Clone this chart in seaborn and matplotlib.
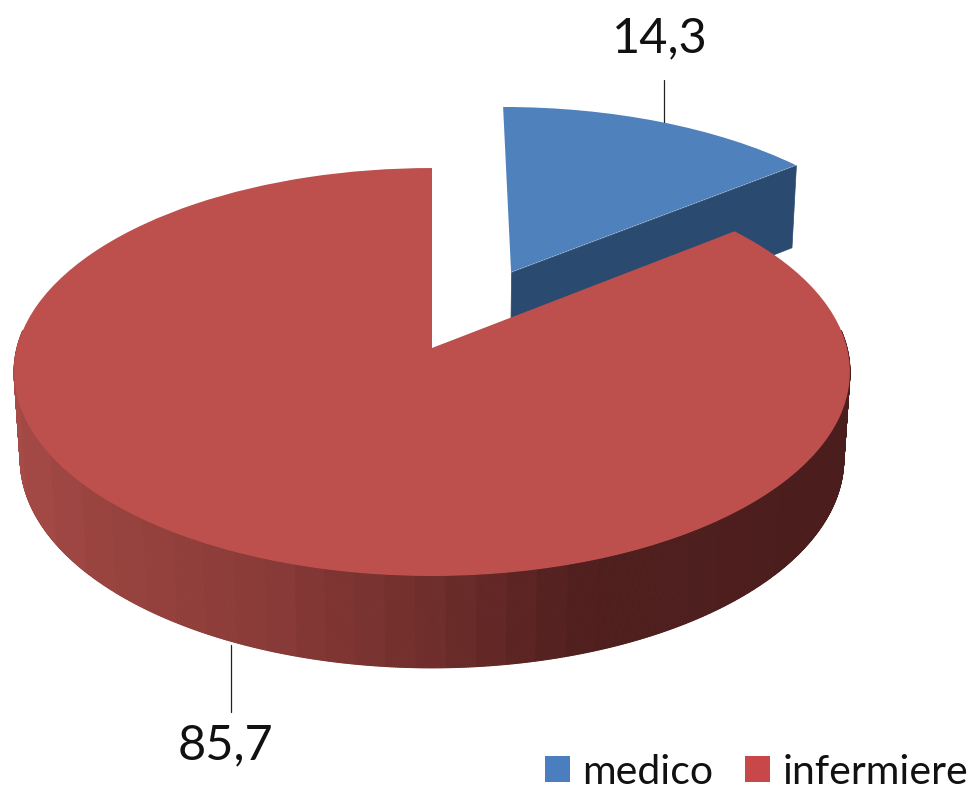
import numpy as np
import matplotlib
matplotlib.use("Agg")
import matplotlib.pyplot as plt
from matplotlib.transforms import Transform
from matplotlib.collections import PolyCollection
from matplotlib.colors import LinearSegmentedColormap
from matplotlib.patches import Patch
import seaborn as sns

categories = ["medico", "infermiere"]
values = [14.3, 85.7]
value_labels = ["14,3", "85,7"]
explode = [0.4385, 0.0]
top_colors = ["#4F81BD", "#BD4F4C"]
legend_colors = ["#4A7EBF", "#C8484A"]
blue_wall = "#2B4A6F"
red_wall_stops = [(0.0, "#A64B48"), (0.12, "#98433F"), (0.30, "#8A3B38"),
                  (0.50, "#6F2E2B"), (0.68, "#501F1E"), (1.0, "#4A1E1D")]

sns.set_theme(style="white")
plt.rcParams["font.family"] = ["Lato", "DejaVu Sans"]

fig = plt.figure(figsize=(9.73, 7.89), dpi=100)
ax = fig.add_axes([0, 0, 1, 1])


def project(xy, a, c, d, k):
    xy = np.asarray(xy, dtype=float)
    w = 1 + k * xy[..., 1]
    return np.stack([432 + a * xy[..., 0] / w, (c + d * xy[..., 1]) / w], axis=-1)


TOP = dict(a=415.0, c=348.0, d=-160.2, k=0.1176)
LOW = dict(a=409.0, c=435.0, d=-156.0, k=0.115)


class Perspective(Transform):
    input_dims = 2
    output_dims = 2

    def transform_non_affine(self, values):
        return project(values, **TOP)


wedges, _ = ax.pie(values, explode=explode, colors=top_colors, startangle=90,
                   counterclock=False, radius=1.0, frame=False)

ax.set_aspect("auto")
ax.set_xlim(0, 973)
ax.set_ylim(789, 0)
ax.axis("off")

persp = Perspective()
for w in wedges:
    w.set_transform(persp + ax.transData)
    w.set_linewidth(0)
    w.set_zorder(5)

# blue: nudge and radial cut wall
bw = wedges[0]
bw.set_center((bw.center[0] + 0.009, bw.center[1]))
cx, cy = bw.center
ang = np.deg2rad(bw.theta1)
apex = np.array([cx, cy])
rim = apex + np.array([np.cos(ang), np.sin(ang)])
blue_poly = np.array([project(apex, **TOP), project(rim, **TOP),
                      project(rim, **LOW), project(apex, **LOW)])
ax.add_collection(PolyCollection([blue_poly], facecolors=blue_wall,
                                 edgecolors=blue_wall, linewidths=0.5, zorder=2))

# red: outer wall, banded from left to right
cmap = LinearSegmentedColormap.from_list("wall", red_wall_stops)
th = np.deg2rad(np.linspace(175, 365, 761))
unit = np.stack([np.cos(th), np.sin(th)], axis=-1)
up, lo = project(unit, **TOP), project(unit, **LOW)
bands = np.round((lo[:, 0] - 12) / (849 - 12) * 28).astype(int)
quads = [[up[i], up[i + 1], lo[i + 1], lo[i]] for i in range(len(th) - 1)]
cols = [cmap(bands[i] / 28) for i in range(len(th) - 1)]
ax.add_collection(PolyCollection(quads, facecolors=cols, edgecolors=cols,
                                 linewidths=0.8, zorder=3))

# leader lines and value labels
ax.plot([664, 664], [80, 122], color="#222222", lw=0.9, zorder=6)
ax.plot([231, 231], [645, 712], color="#222222", lw=0.9, zorder=6)
ax.text(660, 38, value_labels[0], ha="center", va="center", fontsize=35, color="#111111")
ax.text(225, 745, value_labels[1], ha="center", va="center", fontsize=35, color="#111111")

handles = [Patch(facecolor=c, edgecolor="none") for c in legend_colors]
ax.legend(handles, categories, loc="lower right", bbox_to_anchor=(968 / 973, -0.002),
          ncol=2, frameon=False, fontsize=29.5, handlelength=0.61, handleheight=0.61,
          handletextpad=0.3, columnspacing=0.78, borderpad=0.0, borderaxespad=0.0,
          labelcolor="#111111")

fig.savefig("out.png", dpi=100, facecolor="white")
